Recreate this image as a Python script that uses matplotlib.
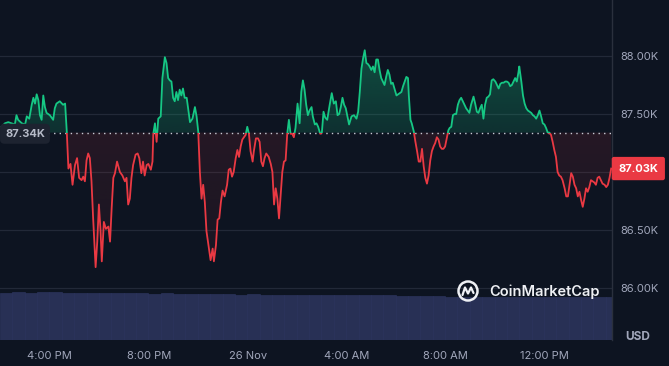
import numpy as np
import matplotlib
matplotlib.use("Agg")
import matplotlib.pyplot as plt
from matplotlib.patches import Rectangle, PathPatch, Circle
from matplotlib.colors import to_rgb

plt.rcParams['font.family'] = ['Inter', 'DejaVu Sans']

# BTC price (thousands USD), minutes after 14:00 on 25 Nov
minutes = [3, 11, 19, 27, 35, 39, 43, 52, 60, 64, 70, 76, 80, 84, 88, 92, 96, 100, 104, 108,
           112, 120, 128, 132, 136, 144, 152, 157, 161, 165, 170, 175, 181, 186, 191, 197, 201, 205, 209, 213,
           217, 221, 225, 231, 235, 239, 243, 246, 251, 256, 262, 266, 270, 274, 278, 283, 290, 296, 302, 306,
           310, 314, 318, 322, 328, 333, 337, 342, 346, 350, 355, 359, 365, 369,
           371, 375, 379, 383, 389, 393, 399, 403, 407, 411, 415, 419, 423, 427, 431, 435, 439, 443, 447, 452,
           455, 460, 466, 472, 476, 480, 484, 488, 492, 496, 500, 506, 510, 515, 518, 523, 527, 531, 535, 539,
           544, 550, 554, 558, 562, 566, 571, 575, 579, 583, 587, 591, 595, 599, 603, 607, 612, 615, 620, 625,
           629, 633, 637, 641, 645, 651, 656, 660, 664, 668, 672, 676, 680, 684, 688, 692, 696, 700, 704, 708,
           712, 716, 721,
           726, 730, 734, 738, 742, 746, 750, 755, 758, 763, 767, 771, 776, 780, 784, 788, 793, 799, 804, 809,
           814, 818, 822, 826, 830, 834, 838, 842, 846, 852, 858, 864, 868, 872, 876, 880, 884, 888, 892, 896,
           900, 904, 908, 912, 916, 920, 924, 928, 932, 936, 940, 944, 948, 952, 957, 961, 965, 969, 973, 977,
           981, 985, 989, 991, 995, 998, 1003, 1007, 1011, 1015, 1019, 1023, 1027, 1031, 1035, 1039, 1043, 1047,
           1051, 1055, 1059, 1063, 1067, 1071, 1075, 1079, 1083, 1087,
           1090, 1094, 1098, 1102, 1106, 1110, 1114, 1118, 1122, 1126, 1130, 1134, 1138, 1142, 1148, 1152,
           1156, 1160, 1164, 1168, 1172, 1176, 1180, 1184, 1188, 1192, 1196, 1201, 1205, 1209, 1213, 1217,
           1221, 1225, 1229, 1233, 1237, 1241, 1245, 1249, 1253, 1257, 1259, 1264, 1268, 1272, 1276, 1280,
           1284, 1288, 1292, 1296, 1300, 1304, 1308, 1312, 1316, 1320, 1324, 1328, 1332, 1336, 1340, 1344,
           1348, 1352, 1356, 1360, 1364, 1369, 1373, 1377, 1381, 1385, 1389, 1393, 1397, 1401, 1405, 1409,
           1413, 1417, 1421, 1425, 1429, 1433, 1437, 1441, 1445, 1449, 1453, 1457, 1461, 1466, 1470, 1474,
           1478, 1482]
price_k = [87.39, 87.42, 87.43, 87.42, 87.41, 87.49, 87.45, 87.42, 87.41, 87.48, 87.46, 87.58, 87.64, 87.59, 87.67, 87.62, 87.49, 87.45, 87.66, 87.56,
           87.51, 87.49, 87.45, 87.55, 87.59, 87.61, 87.58, 87.59, 87.35, 87.03, 87.07, 86.89, 87.06, 87.12, 86.95, 86.93, 86.96, 86.92, 87.10, 87.16,
           87.12, 86.92, 86.60, 86.18, 86.40, 86.72, 86.49, 86.23, 86.57, 86.51, 86.53, 86.40, 86.69, 86.95, 86.99, 87.09, 87.00, 86.97, 86.92, 86.95,
           86.72, 86.77, 86.95, 87.06, 87.15, 87.16, 87.12, 86.99, 87.09, 86.97, 87.06, 87.07, 87.02, 87.09,
           87.33, 87.42, 87.26, 87.46, 87.48, 87.81, 87.99, 87.94, 87.81, 87.79, 87.78, 87.64, 87.61, 87.69, 87.62, 87.71, 87.66, 87.72, 87.64, 87.64,
           87.56, 87.43, 87.46, 87.56, 87.48, 87.35, 87.00, 86.77, 86.89, 86.74, 86.49, 86.34, 86.24, 86.34, 86.23, 86.37, 86.59, 86.60, 86.74, 86.84,
           86.79, 86.89, 87.02, 87.03, 86.96, 87.00, 87.12, 87.19, 87.13, 87.22, 87.28, 87.30, 87.32, 87.39, 87.33, 87.18, 87.09, 87.18, 87.29, 87.29,
           87.26, 87.09, 87.05, 87.12, 87.16, 87.13, 87.07, 87.00, 86.72, 86.86, 86.77, 86.60, 86.80, 87.00, 87.09, 87.10, 87.33, 87.45, 87.33, 87.33,
           87.30, 87.38, 87.59,
           87.42, 87.69, 87.79, 87.71, 87.58, 87.49, 87.53, 87.56, 87.48, 87.41, 87.42, 87.39, 87.33, 87.34, 87.52, 87.47, 87.45, 87.58, 87.68, 87.59,
           87.61, 87.49, 87.50, 87.56, 87.64, 87.58, 87.55, 87.48, 87.41, 87.48, 87.49, 87.46, 87.52, 87.69, 87.89, 87.98, 88.05, 87.94, 87.93, 87.91,
           87.88, 87.91, 87.86, 87.97, 87.97, 87.88, 87.81, 87.78, 87.75, 87.82, 87.88, 87.84, 87.76, 87.77, 87.71, 87.66, 87.67, 87.68, 87.69, 87.74,
           87.78, 87.82, 87.81, 87.66, 87.45, 87.42, 87.35, 87.26, 87.18, 87.09, 87.09, 87.20, 87.05, 86.95, 86.90, 86.97, 87.10, 87.18,
           87.22, 87.25, 87.30, 87.28, 87.22, 87.20, 87.20, 87.22, 87.29, 87.36,
           87.38, 87.39, 87.49, 87.50, 87.50, 87.58, 87.62, 87.64, 87.61, 87.58, 87.55, 87.53, 87.51, 87.58, 87.65, 87.59,
           87.52, 87.51, 87.55, 87.58, 87.46, 87.58, 87.64, 87.65, 87.67, 87.79, 87.80, 87.78, 87.75, 87.72, 87.76, 87.77,
           87.77, 87.78, 87.78, 87.77, 87.74, 87.75, 87.78, 87.81, 87.78, 87.86, 87.91, 87.78, 87.66, 87.59, 87.55, 87.53,
           87.52, 87.51, 87.49, 87.48, 87.46, 87.49, 87.53, 87.48, 87.42, 87.41, 87.38, 87.34, 87.34, 87.32, 87.26, 87.19,
           87.13, 87.00, 86.97, 86.96, 86.93, 86.86, 86.79, 86.79, 86.89, 86.99, 86.96, 86.89, 86.86, 86.79, 86.83, 86.76,
           86.70, 86.77, 86.86, 86.83, 86.87, 86.93, 86.92, 86.91, 86.89, 86.95, 86.96, 86.93, 86.90, 86.89, 86.87, 86.89,
           86.95, 87.03]

baseline_k = 87.34
last_k = 87.03

# 24h volume (billion USD), one value per 30 minutes
volume_b = [71.0, 71.4, 71.2, 71.6, 71.3, 71.0, 71.2, 70.8,
            70.2, 70.0, 69.8, 70.1, 69.6, 69.8, 69.5, 69.2,
            68.6, 68.4, 68.3, 68.1, 68.4, 68.2, 68.0, 67.9,
            67.6, 67.5, 67.7, 67.4, 67.5, 67.3, 67.2, 67.0, 66.6, 66.2, 65.8, 65.3,
            65.0, 64.8, 64.7, 64.6, 64.5, 64.4, 64.6, 64.5, 64.3, 64.4, 64.2, 64.3, 64.1, 64.2]
volume_step = 30

tick_minutes = [120, 360, 600, 840, 1080, 1320]
tick_labels = ["4:00 PM", "8:00 PM", "26 Nov", "4:00 AM", "8:00 AM", "12:00 PM"]
price_ticks = [86.0, 86.5, 87.0, 87.5, 88.0]

BG = "#0d1421"
GREEN = "#16c784"
RED = "#ea3943"
GRID = "#222938"
TXT = "#a1a7bb"

x = np.array(minutes, dtype=float)
y = np.array(price_k)
xmin, xmax = -1, 1484
ymin, ymax = 85.552, 88.483

fig = plt.figure(figsize=(6.69, 3.66), dpi=100, facecolor=BG)
rect = [0, 26 / 366, 612 / 669, 340 / 366]

# volume underneath
axv = fig.add_axes(rect, facecolor=BG, zorder=0)
vx = np.arange(len(volume_b)) * volume_step - 1 + volume_step / 2
axv.bar(vx, volume_b, width=volume_step, color="#283055", edgecolor="#2e3662", linewidth=0.4)
axv.set_xlim(xmin, xmax)
axv.set_ylim(0, 510)
axv.axis("off")

ax = fig.add_axes(rect, facecolor="none", zorder=1)
ax.set_xlim(xmin, xmax)
ax.set_ylim(ymin, ymax)

for t in price_ticks:
    ax.axhline(t, color=GRID, lw=0.9, zorder=0)


def gradient_fill(lo, hi, color, a_lo, a_hi):
    poly = ax.fill_between(x, lo, hi, facecolor="none", edgecolor="none")
    path = poly.get_paths()[0]
    patch = PathPatch(path, transform=ax.transData, facecolor="none", edgecolor="none")
    ax.add_patch(patch)
    r, g, b = to_rgb(color)
    img = np.zeros((256, 1, 4))
    img[:, 0, 0], img[:, 0, 1], img[:, 0, 2] = r, g, b
    img[:, 0, 3] = np.clip(np.linspace(a_lo, a_hi, 256), 0, 1)
    im = ax.imshow(img, extent=[xmin, xmax, ymin, ymax], aspect="auto", origin="lower", zorder=1)
    im.set_clip_path(patch)


# green above, red below the reference price
gradient_fill(np.full_like(y, baseline_k), np.maximum(y, baseline_k), GREEN, -0.25, 0.42)
gradient_fill(np.minimum(y, baseline_k), np.full_like(y, baseline_k), RED, 0.02, 0.17)
ax.set_xlim(xmin, xmax)
ax.set_ylim(ymin, ymax)

up = ax.plot(x, y, color=GREEN, lw=1.3, zorder=3, solid_joinstyle="round")[0]
up.set_clip_path(Rectangle((xmin, baseline_k), xmax - xmin, 10, transform=ax.transData))
dn = ax.plot(x, y, color=RED, lw=1.3, zorder=3, solid_joinstyle="round")[0]
dn.set_clip_path(Rectangle((xmin, baseline_k - 10), xmax - xmin, 10, transform=ax.transData))

ax.axhline(baseline_k, xmin=48 / 612, xmax=1, color="#c9ccd6", lw=1,
           ls=(0, (1, 3)), zorder=2)

for s in ["top", "left", "bottom"]:
    ax.spines[s].set_visible(False)
ax.spines["right"].set_color("#2a303d")
ax.spines["right"].set_linewidth(1)

ax.yaxis.tick_right()
ax.set_yticks(price_ticks)
# the 87.00K label sits under the current-price tag
ax.set_yticklabels(["" if abs(t - 87.0) < 1e-9 else "%.2fK" % t for t in price_ticks])
ax.set_xticks(tick_minutes)
ax.set_xticklabels(tick_labels)
ax.tick_params(axis="y", length=0, pad=6, labelsize=8, labelcolor=TXT)
ax.tick_params(axis="x", length=0, pad=8, labelsize=8, labelcolor=TXT)

# price tags
ax.text(25 / 612, baseline_k - 0.01, "%.2fK" % baseline_k, transform=ax.get_yaxis_transform(),
        ha="center", va="center", fontsize=8, fontweight="bold", color="#b5bac7", zorder=5,
        bbox=dict(boxstyle="round,pad=0.45,rounding_size=0.4", fc="#1d2330", ec="none"))
ax.text(1.043, last_k, "%.2fK" % last_k, transform=ax.get_yaxis_transform(),
        ha="center", va="center", fontsize=8, fontweight="bold", color="white", zorder=5,
        clip_on=False,
        bbox=dict(boxstyle="round,pad=0.6,rounding_size=0.2", fc=RED, ec="none"))

# overlay in pixel coordinates for logo and unit
ov = fig.add_axes([0, 0, 1, 1], facecolor="none", zorder=2)
ov.set_xlim(0, 669)
ov.set_ylim(366, 0)
ov.axis("off")
ov.add_patch(Circle((468, 291), 9.5, fill=False, ec="#eef0f4", lw=1.8))
ov.plot([462.5, 465, 468, 471, 473.5], [295, 287.5, 293.5, 287.5, 293], color="#eef0f4",
        lw=1.6, solid_joinstyle="round", solid_capstyle="round")
ov.text(489, 292, "CoinMarketCap", ha="left", va="center", fontsize=10.5,
        fontweight="semibold", color="#eef0f4")
ov.text(638, 337, "USD", ha="center", va="center", fontsize=8.5, fontweight="bold", color=TXT)

fig.savefig("out.png", dpi=100, facecolor=BG)
